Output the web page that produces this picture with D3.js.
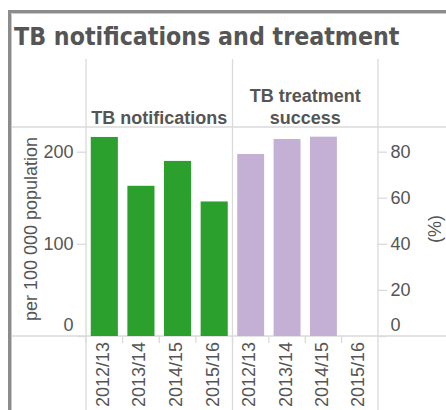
<!DOCTYPE html>
<html>
<head>
<meta charset="utf-8">
<script src="https://cdn.jsdelivr.net/npm/d3@7/dist/d3.min.js"></script>
<style>
  html, body { margin: 0; padding: 0; background: #fff; }
  svg { display: block; }
</style>
</head>
<body>
<svg id="chart" width="446" height="410"></svg>
<script>
// Reporting years shared by both panels
const years = ["2012/13", "2013/14", "2014/15", "2015/16"];
// TB notifications, per 100 000 population
const notifications = [216, 163, 190, 146];
// TB treatment success, percent (no figure yet for the last year)
const treatmentSuccess = [79, 85.5, 86.5, null];
// Axis tick values
const notifTicks = [0, 100, 200];
const pctTicks = [0, 20, 40, 60, 80];
// Panel headers
const panelTitles = [["TB notifications"], ["TB treatment", "success"]];

const svg = d3.select("#chart");
const textColor = "#555";
const gridColor = "#dadada";
const labelFont = "'Liberation Sans', Arial, sans-serif";

const plotTop = 127, plotBottom = 336;
const colEdges = [86, 232.5, 378];

// Value scales
const yNotif = d3.scaleLinear().domain([0, 226.8]).range([plotBottom, plotTop]);
const yPct = d3.scaleLinear().domain([0, 90.7]).range([plotBottom, plotTop]);

// Band scales for the two panels
function bandFor(i) {
  return d3.scaleBand().domain(years).range([colEdges[i], colEdges[i + 1]])
    .paddingInner(0.26).paddingOuter(0.13);
}
function cellsFor(i) {
  return d3.scaleBand().domain(years).range([colEdges[i], colEdges[i + 1]]).padding(0);
}
const xLeft = bandFor(0), xRight = bandFor(1);
const cells = [cellsFor(0), cellsFor(1)];

// Outer frame
svg.append("path").attr("d", "M9.5,410 V11.5 H446")
  .attr("fill", "none").attr("stroke", "#8c8c8c").attr("stroke-width", 3);
svg.append("path").attr("d", "M11.5,410 V13.5 H446")
  .attr("fill", "none").attr("stroke", "#c8c8c8").attr("stroke-width", 1);

// Title
svg.append("text")
  .attr("x", 14).attr("y", 44.5)
  .attr("textLength", 385.5).attr("lengthAdjust", "spacingAndGlyphs")
  .style("font-family", "'DejaVu Sans', Verdana, sans-serif")
  .style("font-weight", "bold").style("font-size", "24px")
  .attr("fill", textColor)
  .text("TB notifications and treatment");

// Table grid
const grid = svg.append("g").attr("stroke", gridColor).attr("stroke-width", 1.3);
colEdges.forEach(x => grid.append("line").attr("x1", x).attr("x2", x).attr("y1", 59).attr("y2", 410));
[plotTop, plotBottom].forEach(y => grid.append("line").attr("x1", 12).attr("x2", 446).attr("y1", y).attr("y2", y));

// Panel headers
panelTitles.forEach((lines, i) => {
  const cx = (colEdges[i] + colEdges[i + 1]) / 2;
  const t = svg.append("text")
    .attr("text-anchor", "middle")
    .style("font-family", labelFont).style("font-weight", "bold").style("font-size", "18px")
    .attr("fill", textColor);
  lines.forEach((line, j) => {
    t.append("tspan").attr("x", cx).attr("y", 124 - (lines.length - 1 - j) * 22.3).text(line);
  });
});

// Bars
svg.append("g").selectAll("rect")
  .data(years.map((y, i) => ({ year: y, value: notifications[i] })))
  .join("rect")
  .attr("x", d => xLeft(d.year)).attr("width", xLeft.bandwidth())
  .attr("y", d => yNotif(d.value)).attr("height", d => yNotif(0) - yNotif(d.value))
  .attr("fill", "#2ca02c");

svg.append("g").selectAll("rect")
  .data(years.map((y, i) => ({ year: y, value: treatmentSuccess[i] })).filter(d => d.value != null))
  .join("rect")
  .attr("x", d => xRight(d.year)).attr("width", xRight.bandwidth())
  .attr("y", d => yPct(d.value)).attr("height", d => yPct(0) - yPct(d.value))
  .attr("fill", "#c5b0d5");

// Value axes
function styleAxis(g, zeroDy) {
  g.select(".domain").remove();
  g.selectAll(".tick line").attr("stroke", gridColor).attr("stroke-width", 1.3);
  g.selectAll(".tick text")
    .attr("fill", textColor)
    .style("font-family", labelFont).style("font-size", "18px")
    .filter(d => d === 0).attr("dy", zeroDy);
}
svg.append("g").attr("transform", `translate(${colEdges[0]},0)`)
  .call(d3.axisLeft(yNotif).tickValues(notifTicks).tickSize(9).tickPadding(3.5))
  .call(g => styleAxis(g, "-0.28em"));
svg.append("g").attr("transform", `translate(${colEdges[2]},0)`)
  .call(d3.axisRight(yPct).tickValues(pctTicks).tickSize(9).tickPadding(3.5))
  .call(g => styleAxis(g, "-0.28em"));

// Band boundary ticks and rotated year labels
[xLeft, xRight].forEach((xb, i) => {
  const g = svg.append("g");
  g.selectAll("line").data(years).join("line")
    .attr("x1", d => cells[i](d)).attr("x2", d => cells[i](d))
    .attr("y1", plotBottom).attr("y2", plotBottom + 7)
    .attr("stroke", gridColor).attr("stroke-width", 1.3);
  g.selectAll("text").data(years).join("text")
    .attr("transform", d => `translate(${xb(d) + xb.bandwidth() / 2},342) rotate(-90)`)
    .attr("text-anchor", "end").attr("dy", "0.25em")
    .attr("fill", textColor)
    .style("font-family", labelFont).style("font-size", "18px")
    .text(d => d);
});

// Axis titles
svg.append("text")
  .attr("transform", "translate(31,229) rotate(-90)")
  .attr("text-anchor", "middle").attr("dy", "0.35em")
  .attr("fill", textColor)
  .style("font-family", labelFont).style("font-size", "18px")
  .text("per 100 000 population");
svg.append("text")
  .attr("transform", "translate(434.5,229) rotate(-90)")
  .attr("text-anchor", "middle").attr("dy", "0.35em")
  .attr("fill", textColor)
  .style("font-family", labelFont).style("font-size", "18px")
  .text("(%)");
</script>
</body>
</html>
